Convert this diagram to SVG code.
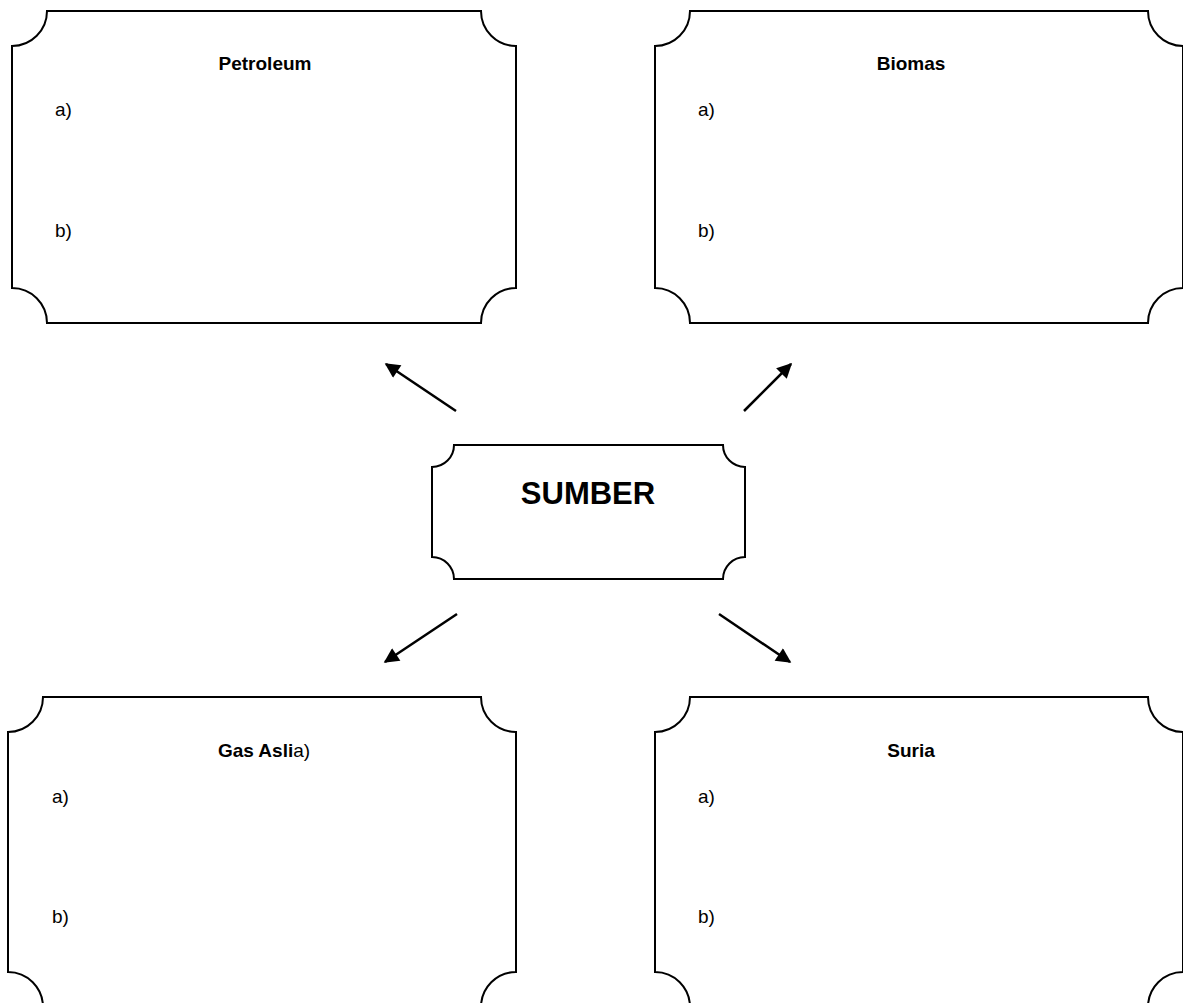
<svg xmlns="http://www.w3.org/2000/svg" width="1183" height="1003" viewBox="0 0 1183 1003">
  <style>
    .frame { fill: #ffffff; stroke: #000000; stroke-width: 2; }
    .title { font-family: "Liberation Sans", Arial, sans-serif; font-weight: bold; font-size: 19px; fill: #000; text-anchor: middle; }
    .item { font-family: "Liberation Sans", Arial, sans-serif; font-size: 19px; fill: #000; }
    .big { font-family: "Liberation Sans", Arial, sans-serif; font-weight: bold; font-size: 31px; fill: #000; text-anchor: middle; }
    .link { stroke: #000; stroke-width: 2.5; fill: none; marker-end: url(#head); }
  </style>
  <defs>
    <marker id="head" viewBox="0 0 10 10" refX="9" refY="5" markerWidth="6.5" markerHeight="6" orient="auto" markerUnits="strokeWidth">
      <path d="M0,0 L10,5 L0,10 z" fill="#000"/>
    </marker>
  </defs>

  <rect width="1183" height="1003" fill="#ffffff"/>

  <!-- Petroleum: frame with scalloped (notched) corners -->
  <g id="petroleum">
    <path class="frame" d="M47,11 H481 A35,35 0 0 0 516,46 V288 A35,35 0 0 0 481,323 H47 A35,35 0 0 0 12,288 V46 A35,35 0 0 0 47,11 Z"/>
    <text class="title" x="265" y="70">Petroleum</text>
    <text class="item" x="55" y="116">a)</text>
    <text class="item" x="55" y="237">b)</text>
  </g>

  <!-- Biomas -->
  <g id="biomas">
    <path class="frame" d="M690,11 H1148 A35,35 0 0 0 1183,46 V288 A35,35 0 0 0 1148,323 H690 A35,35 0 0 0 655,288 V46 A35,35 0 0 0 690,11 Z"/>
    <text class="title" x="911" y="70">Biomas</text>
    <text class="item" x="698" y="116">a)</text>
    <text class="item" x="698" y="237">b)</text>
  </g>

  <!-- SUMBER -->
  <g id="sumber">
    <path class="frame" d="M454,445 H723 A22,22 0 0 0 745,467 V557 A22,22 0 0 0 723,579 H454 A22,22 0 0 0 432,557 V467 A22,22 0 0 0 454,445 Z"/>
    <text class="big" x="588" y="504">SUMBER</text>
  </g>

  <!-- Gas Asli -->
  <g id="gas-asli">
    <path class="frame" d="M43,697 H481 A35,35 0 0 0 516,732 V972 A35,35 0 0 0 481,1007 H43 A35,35 0 0 0 8,972 V732 A35,35 0 0 0 43,697 Z"/>
    <text class="title" x="264" y="757">Gas Asli<tspan font-weight="normal">a)</tspan></text>
    <text class="item" x="52" y="803">a)</text>
    <text class="item" x="52" y="923">b)</text>
  </g>

  <!-- Suria -->
  <g id="suria">
    <path class="frame" d="M690,697 H1148 A35,35 0 0 0 1183,732 V972 A35,35 0 0 0 1148,1007 H690 A35,35 0 0 0 655,972 V732 A35,35 0 0 0 690,697 Z"/>
    <text class="title" x="911" y="757">Suria</text>
    <text class="item" x="698" y="803">a)</text>
    <text class="item" x="698" y="923">b)</text>
  </g>

  <!-- connectors -->
  <g id="connectors">
    <line class="link" x1="456" y1="411" x2="386" y2="364"/>
    <line class="link" x1="744" y1="411" x2="791" y2="364"/>
    <line class="link" x1="457" y1="614" x2="385" y2="662"/>
    <line class="link" x1="719" y1="614" x2="790" y2="662"/>
  </g>
</svg>
